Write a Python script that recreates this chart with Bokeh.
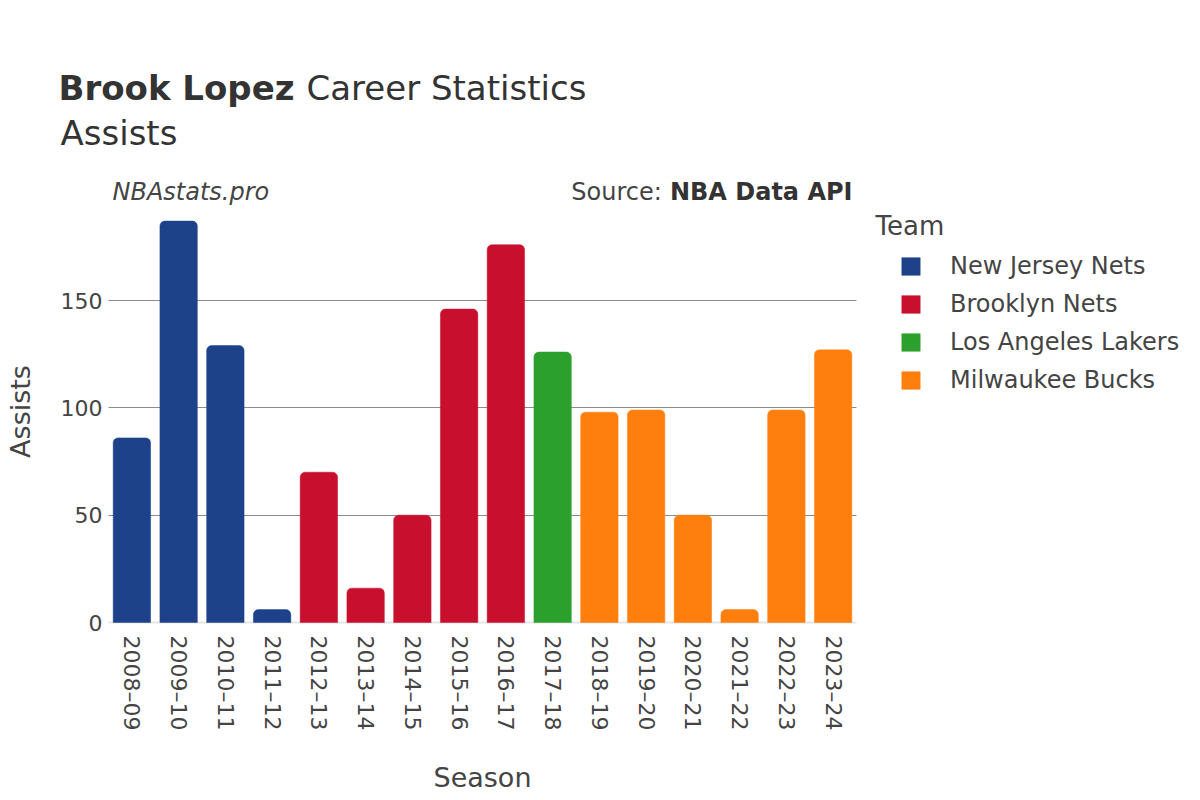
import math
from bokeh.plotting import figure
from bokeh.models import (ColumnDataSource, Range1d, FixedTicker, Label, Legend, LegendItem, Grid)
from bokeh.embed import file_html
from bokeh.resources import INLINE

# ---- data ----
seasons = ["2008–09", "2009–10", "2010–11", "2011–12", "2012–13", "2013–14", "2014–15",
           "2015–16", "2016–17", "2017–18", "2018–19", "2019–20", "2020–21", "2021–22",
           "2022–23", "2023–24"]
assists = [86, 187, 129, 6, 70, 16, 50, 146, 176, 126, 98, 99, 50, 6, 99, 127]
teams = ["New Jersey Nets"] * 4 + ["Brooklyn Nets"] * 5 + ["Los Angeles Lakers"] + ["Milwaukee Bucks"] * 6
team_order = ["New Jersey Nets", "Brooklyn Nets", "Los Angeles Lakers", "Milwaukee Bucks"]
team_colors = ["#1D428A", "#C8102E", "#2CA02C", "#FF7F0E"]
y_ticks = [0, 50, 100, 150]
y_max = 196.8

FONT = "DejaVu Sans"
TXT = "#444444"
DARK = "#333333"

W, H = 1200, 800
# plot area inside the canvas (pixels): left 108, right 856, zero line at 622 from top
PL, PR, PZ = 108, 856, 622
n = len(seasons)
xpx = (PR - PL) / n
ypx = 322 / 150.0
x_range = Range1d(-0.5 - PL / xpx, n - 0.5 + (W - PR) / xpx)
y_range = Range1d(-(H - PZ) / ypx, PZ / ypx)

p = figure(width=W, height=H, x_range=x_range, y_range=y_range, output_backend="svg",
           toolbar_location=None, min_border=0)
p.min_border_left = p.min_border_right = p.min_border_top = p.min_border_bottom = 0
p.outline_line_color = None
p.background_fill_color = "white"
p.border_fill_color = "white"

idx = list(range(n))
renderers = []
for t, c in zip(team_order, team_colors):
    xs = [i for i, tt in zip(idx, teams) if tt == t]
    ys = [v for v, tt in zip(assists, teams) if tt == t]
    src = ColumnDataSource(dict(x=xs, top=ys))
    r = p.vbar(x="x", top="top", width=0.8, bottom=0, source=src, fill_color=c,
               line_color=c, line_width=0.5, border_radius=(5, 5, 0, 0))
    renderers.append((t, r))

# grids limited to the bar area
p.xgrid.visible = False
xb = (-0.5, n - 0.5)
if "cross_bounds" in Grid.properties():
    p.ygrid.ticker = FixedTicker(ticks=y_ticks[1:])
    p.ygrid.cross_bounds = xb
    p.ygrid.grid_line_color = "#8c8c8c"
    p.ygrid.grid_line_width = 1
    p.add_layout(Grid(dimension=1, ticker=FixedTicker(ticks=[0]), cross_bounds=xb,
                      grid_line_color="#e6e6e6", grid_line_width=2, level="underlay"))
else:
    p.ygrid.visible = False
    gy = y_ticks[1:]
    p.segment(x0=[xb[0]] * len(gy), x1=[xb[1]] * len(gy), y0=gy, y1=gy,
              line_color="#8c8c8c", line_width=1, level="underlay")
    p.segment(x0=[xb[0]], x1=[xb[1]], y0=[0], y1=[0], line_color="#e6e6e6",
              line_width=2, level="underlay")

# axes drawn at fixed positions
xa, ya = p.xaxis[0], p.yaxis[0]
xa.fixed_location = 0
xa.ticker = FixedTicker(ticks=idx)
xa.major_label_overrides = {i: s for i, s in zip(idx, seasons)}
xa.bounds = xb
xa.major_label_orientation = -math.pi / 2
xa.major_label_standoff = 7
xa.axis_label = "Season"
xa.axis_label_standoff = 29

ya.fixed_location = -0.5
ya.ticker = FixedTicker(ticks=y_ticks)
ya.bounds = (0, y_max)
ya.major_label_standoff = 0
ya.axis_label = "Assists"
ya.axis_label_standoff = 22

for ax in (xa, ya):
    ax.axis_line_color = None
    ax.major_tick_line_color = None
    ax.minor_tick_line_color = None
    ax.major_label_text_font = FONT
    ax.major_label_text_font_size = "22px"
    ax.major_label_text_color = TXT
    ax.axis_label_text_font = FONT
    ax.axis_label_text_font_size = "27px"
    ax.axis_label_text_font_style = "normal"
    ax.axis_label_text_color = TXT


def lab(text, x, y, size, style="normal", align="left", color=TXT):
    p.add_layout(Label(x=x, y=y, x_units="screen", y_units="screen", text=text,
                       text_font=FONT, text_font_size=size, text_font_style=style,
                       text_color=color, text_align=align, text_baseline="alphabetic"))


lab("Brook Lopez", 58, 713, "34px", "bold", color=DARK)
lab("Career Statistics", 306, 713, "34px", color=DARK)
lab("Assists", 60, 668, "34px", color=DARK)
lab("NBAstats.pro", 112, 609, "24px", "italic")
lab("NBA Data API", 852, 609, "24px", "bold", align="right", color=DARK)
lab("Source: ", 669, 609, "24px", align="right")
lab("Team", 875, 575, "26px")

legend = Legend(items=[LegendItem(label=t, renderers=[r]) for t, r in renderers],
                location=(899, 406), orientation="vertical",
                padding=0, margin=0, border_line_color=None, background_fill_alpha=0,
                glyph_width=23, glyph_height=22, label_height=28, spacing=10,
                label_standoff=28, label_text_font=FONT, label_text_font_size="24px",
                label_text_color=TXT)
p.add_layout(legend, "center")

open("out.html", "w").write(file_html(p, INLINE))
